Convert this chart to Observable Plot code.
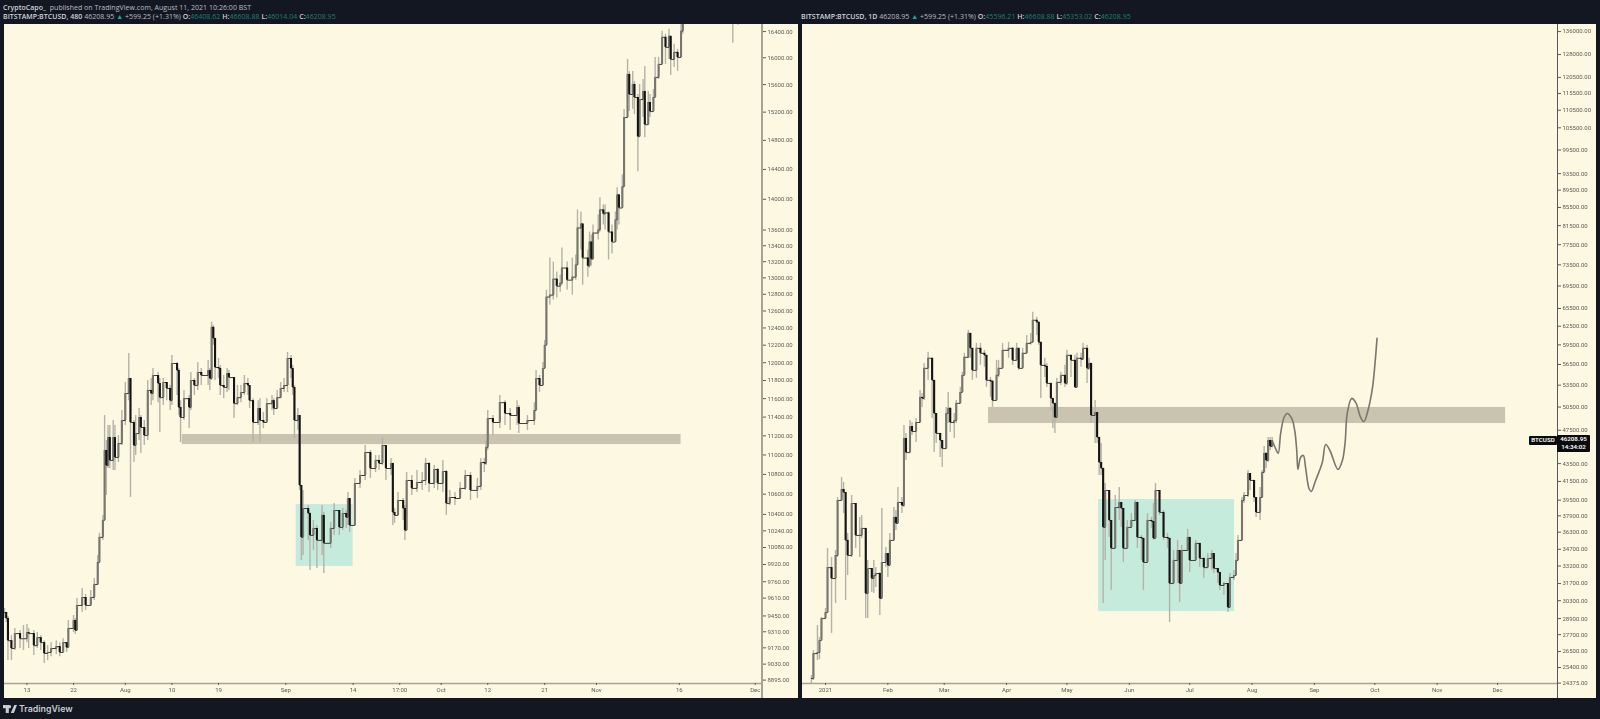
<!DOCTYPE html>
<html><head><meta charset="utf-8">
<script src="https://cdn.jsdelivr.net/npm/d3@7"></script>
<script src="https://cdn.jsdelivr.net/npm/@observablehq/plot@0.6"></script>
<style>
html,body{margin:0;padding:0;background:#131722;width:1600px;height:719px;overflow:hidden}
body{position:relative;font-family:Roboto,sans-serif}
.panel{position:absolute;top:24px;height:674px;width:794px;background:#fdf8e1;overflow:hidden}
.panel svg{display:block;background:transparent;filter:blur(.35px)}
.hdr{position:absolute;font:7px/9px "Open Sans",sans-serif;letter-spacing:.03px;color:#b9bdc6;white-space:nowrap}
.hdr b{font-weight:600;color:#cfd2d9}.hdr i{font-style:normal;color:#1f7f72}
.hdr .up{color:#26a69a}
.vline{position:absolute;top:24px;height:674px}
.tag{position:absolute;background:#0b0b0b;color:#fff;font:600 6.2px/8px Roboto,sans-serif;text-align:center;border-radius:1px}
.brand{position:absolute;left:3px;top:702px;display:flex;align-items:center;gap:2px;color:#c9ccd2;font:600 8.8px/13px Inter,Roboto,sans-serif}
</style></head><body>
<div class="hdr" style="left:3px;top:3px"><b>CryptoCapo_</b>&nbsp; published on TradingView.com, August 11, 2021 10:26:00 BST</div>
<div class="hdr" style="left:3px;top:12px"><b>BITSTAMP:BTCUSD, 480</b> 46208.95 <span class="up">▲</span> +599.25 (+1.31%) <b>O:</b><i>46408.62</i> <b>H:</b><i>46608.88</i> <b>L:</b><i>46014.04</i> <b>C:</b><i>46208.95</i></div>
<div class="hdr" style="left:801px;top:12px"><b>BITSTAMP:BTCUSD, 1D</b> 46208.95 <span class="up">▲</span> +599.25 (+1.31%) <b>O:</b><i>45596.21</i> <b>H:</b><i>46608.88</i> <b>L:</b><i>45353.02</i> <b>C:</b><i>46208.95</i></div>
<div class="panel" id="left" style="left:4px"></div>
<div class="panel" id="right" style="left:802px"></div>
<div class="vline" style="left:761px;width:1.5px;background:#a5a296"></div>
<div class="vline" style="left:1556.5px;width:1px;background:#55585c"></div>
<div class="brand"><svg width="14" height="8" viewBox="0 0 36 20"><path fill="#c9ccd2" d="M0 0h15v20H7V8H0zM29 0h7l-8 20h-8zM17 0a4 4 0 1 1 0 8a4 4 0 1 1 0-8z"/></svg>TradingView</div>
<script>
const leftBar=[0,1,2,4,6,9,11,13,14,17,19,21,23,25,27,30,32,34,36,37,40,41,42,45,47,50,52,54,55,57,58,59,60,61,63,64,66,68,70,72,73,75,76,78,79,81,83,85,86,89,90,92,94,96,97,100,101,102,104,107,108,110,112,114,118,119,120,121,122,124,125,127,129,130,133,135,137,139,141,142,144,147,148,150,152,155,156,158,160,162,164,166,167,168,170,171,172,173,176,177,179,181,184,185,189,191,194,196,198,199,200,203,206,209,212,215,217,219,221,224,225,226,228,231,232,233,236,239,242,244,246,249,251,254,256,258,261,264,267,270,274,276,278,279,280,283,287,290,293,297,298,303,307,308,310,312,313,314,316,318,320,322,323,326,329,331,332,334,335,338,339,340,341,344,345,347,348,350,352,354,355,356,358,359,361,362,364,365,367,368,370,371,373,374,376,377,379,381,383,385,386,388,390,392,393,422,425];
const leftClose=[9481,9427,9232,9164,9294,9249,9249,9303,9294,9189,9258,9215,9121,9130,9164,9181,9130,9215,9172,9339,9409,9321,9544,9616,9544,9616,9735,9938,10177,10341,11046,10890,11182,10943,11182,10974,11118,11363,11656,11822,11342,11098,11224,11395,11288,11203,11690,11656,11856,11767,11611,11778,11712,11578,11991,11912,11503,11395,11600,11503,11800,11745,11890,11856,11912,11822,12407,12278,11946,11934,11745,11723,11878,11833,11545,11611,11667,11767,11745,11578,11342,11492,11363,11342,11545,11578,11492,11611,11712,11745,12048,11934,11723,11363,11417,10688,10177,10458,10409,10196,10263,10148,10390,10120,10263,10438,10273,10409,10370,10557,10292,10708,10789,11025,10860,10943,10912,11098,10860,10912,10419,10390,10537,10458,10244,10738,10658,10718,10738,10912,10708,10850,10708,10829,10507,10567,10557,10658,10789,10638,10678,10922,10912,11077,11384,11342,11556,11438,11417,11503,11331,11363,11470,11822,11745,11934,12198,12766,12790,12984,12898,12935,13121,12972,13009,13158,13626,13678,13245,13146,13447,13232,13561,13600,13860,13808,13821,13574,13447,13730,14058,13886,14165,15122,15750,15455,15602,15411,14852,15382,15499,15021,15339,15208,15411,15706,15900,16311,16158,16327,15975,16081,16005,16405,16670,16830,16530];
const leftHigh=[9517,9481,9445,9276,9339,9321,9365,9374,9339,9321,9303,9276,9232,9189,9215,9232,9215,9249,9215,9409,9454,9427,9607,9698,9644,9680,9790,10005,10215,10390,11417,11150,11310,11310,11363,11310,11203,11470,11778,12105,11822,11363,11417,11492,11417,11363,11800,11822,11934,11890,11822,11822,11778,11745,12082,12002,11934,11578,11690,11634,11890,11822,12002,11934,12025,11934,12467,12431,12255,12048,11968,11856,11934,11912,11822,11745,11745,11856,11822,11745,11600,11578,11600,11449,11600,11634,11600,11690,11778,11822,12117,12082,11968,11745,11492,11417,10688,10638,10487,10419,10341,10292,10487,10419,10321,10507,10438,10458,10438,10618,10557,10758,10840,11098,11046,10995,10995,11182,11098,10964,10912,10458,10618,10557,10487,10819,10789,10840,10819,10964,10922,10890,10860,10943,10840,10638,10618,10718,10840,10819,10758,10964,10964,11150,11470,11417,11634,11578,11492,11578,11524,11417,11556,11912,11856,12002,12255,12850,13245,13195,13071,13034,13371,13195,13245,13283,13860,13834,13665,13345,13574,13536,13665,13795,14019,13926,13926,13834,13665,13834,14152,14058,14327,15237,15975,15795,15795,15646,15455,15602,15676,15870,15499,15455,15528,16005,16005,16405,16358,16436,16280,16204,16127,16514,16750,16910,16830];
const leftLow=[9427,9391,9060,9060,9147,9164,9147,9215,9164,9103,9164,9147,9035,9060,9094,9112,9094,9147,9130,9303,9303,9285,9365,9481,9499,9544,9589,9726,9976,10148,10341,10587,10860,10860,10840,10840,10922,11098,11310,11578,10567,10922,10995,11150,11015,11098,11150,11524,11578,11556,11235,11524,11578,11470,11524,11634,11417,11129,11363,11277,11470,11634,11690,11745,11745,11690,11800,12198,11800,11822,11634,11600,11667,11690,11384,11524,11556,11634,11634,11492,11129,11310,11129,11277,11384,11470,11417,11524,11600,11667,11667,11822,11634,11171,11256,10638,9957,10005,10148,9865,10052,9883,10005,9837,10071,10196,10196,10244,10263,10292,10225,10390,10658,10738,10758,10819,10840,10890,10738,10789,10292,10312,10390,10341,10148,10390,10587,10618,10638,10688,10618,10658,10638,10618,10390,10487,10487,10557,10638,10537,10557,10638,10819,10890,11046,11203,11277,11310,11256,11310,11224,11256,11310,11470,11667,11800,11934,12198,12669,12730,12754,12826,12910,12850,12790,12972,13158,13345,12910,13009,13121,13146,13220,13473,13574,13665,13600,13220,13295,13536,13600,13665,13992,14165,15382,15208,15237,15165,14368,15021,15122,14838,15122,15122,15266,15528,15676,15975,15900,15975,15735,15855,15795,16005,16358,16220,16498];

const rightDay=[-7,-6,-4,-3,-2,0,1,3,5,6,8,9,10,11,13,15,17,18,20,21,23,24,25,27,28,30,31,32,34,35,36,38,39,40,42,43,45,47,48,49,51,53,54,55,57,58,60,61,62,64,65,67,68,69,71,72,73,75,77,79,80,82,83,85,86,88,91,93,95,96,98,100,102,103,105,106,107,109,110,112,113,114,115,117,119,120,122,124,125,127,128,130,131,132,134,135,136,137,138,139,141,142,144,146,147,148,150,152,154,155,157,158,160,162,163,164,166,168,170,171,173,175,176,177,180,181,184,186,188,190,192,193,195,196,198,200,201,203,204,205,207,208,210,211,213,214,216,217,218,219,220,221,222];
const rightClose=[24670,26350,26420,27270,28900,29360,33060,32120,34130,39470,40630,40310,35520,34130,39150,35990,35990,36660,30870,32980,32120,32380,32550,30470,33510,34310,33250,35520,37740,37150,39260,38950,46480,44780,47970,47340,48480,51800,51660,55930,57430,54180,49650,47100,46230,45260,49650,50320,48480,48740,50990,52480,54900,57580,61330,58960,55630,58960,58190,57880,54180,54040,51390,54900,55930,58650,58960,57120,58960,55930,58190,59740,59900,63490,63160,59900,56370,56220,53750,51660,50990,49130,53890,54900,53750,57880,57120,53190,57430,57280,58960,55930,56660,49390,49780,46610,43630,42950,36760,40520,37440,34780,38740,39260,38640,34780,36760,37440,39260,35800,35710,33510,37440,37340,35710,40520,38240,35800,35710,31700,33690,34590,31700,34590,35800,33690,35240,33870,33060,33870,34310,32980,32640,31540,31700,29760,32210,32380,33690,35520,39470,39990,42380,41610,39780,38240,39780,42490,44680,43860,46230,45510,46208.95];
const rightHigh=[24870,26560,28380,27490,28980,29680,34780,33950,34590,39780,41940,41390,38440,36180,39990,39150,37740,37940,35520,33690,32980,33690,33060,32640,38640,34870,34310,36180,38740,38440,40840,39780,48100,47100,48740,48480,49000,52760,52340,56660,58340,57430,52070,49650,47100,46230,50450,52480,50450,49650,51390,53190,55340,58190,61830,61330,58960,59740,59740,58650,57880,54610,54180,57120,57120,59740,59900,59110,59740,58340,58960,61000,61330,64850,63990,63160,59900,57430,56660,53750,51660,50990,54470,55340,56370,58650,57880,57880,58190,58190,59740,59430,57430,56660,51390,49780,46610,45870,42720,41280,40520,37440,39990,40840,39260,38640,37440,38130,39470,39260,35990,35710,38130,37740,39150,41280,40520,38440,36180,35710,34590,35520,34590,35050,36570,35800,35520,35240,33950,34310,34590,34310,32980,32640,31780,31700,32550,32810,34310,35990,39780,40310,42720,42380,41610,39780,40840,42720,45500,44790,46610,46610,46608.88];
const rightLow=[24350,24543,25873,25940,27420,28900,29360,27790,30070,33950,39470,38130,30310,32380,33950,34780,33950,35710,28900,28900,30950,30870,31370,29130,30870,33060,32210,33250,35520,36470,37440,38130,38740,43860,45870,46850,45990,48480,50450,51390,54180,49000,44780,45870,44210,43050,45260,48350,47220,46480,48350,50990,52480,55630,57430,57430,54180,54470,56370,56080,53190,51800,50450,51390,54610,55930,57430,56370,57430,55630,57430,58190,59430,59900,61000,59430,51660,54610,53190,50050,47720,47100,49130,53470,53190,53470,54610,53050,54900,56080,57120,53750,55630,48350,45870,45870,42160,42160,30070,33690,35800,31120,36470,37440,36760,33510,35710,36660,37440,34780,33690,31120,33510,36660,35520,35710,37940,35520,34780,28600,31700,31700,30150,32210,34590,32640,33690,33060,32120,33060,32810,32550,31700,31120,30710,29360,29760,31950,32380,33690,35520,39150,39780,40520,39260,37740,37440,39680,42490,42950,43630,45030,45353.02];

const forecastDay=[222,223.7,225,226.2,227.9,229.5,231.7,233.2,234.2,234.8,236.1,237.5,238.6,240.3,241.4,243.6,246.9,248.6,250.7,254.7,256.9,258.2,259.3,261.5,263.5,266,267.6,269.6,271.8,273.1,274.1];
const forecastPrice=[46209,45260,44680,47100,49130,49650,49000,47470,45030,42830,44210,44440,43050,40730,40410,41610,43630,45740,45030,42830,43860,45870,49650,51660,51120,49130,48610,50050,53040,56660,60530];

const leftTicksY=[16400,16000,15600,15200,14800,14400,14000,13600,13400,13200,13000,12800,12600,12400,12200,12000,11800,11600,11400,11200,11000,10800,10600,10400,10240,10080,9920,9760,9610,9450,9310,9170,9030,8895];
const rightTicksY=[136000,128000,120500,115500,110500,105500,99500,93500,89500,85500,81500,77500,73500,69500,65500,62500,59500,56500,53500,50500,47500,43500,41500,39500,37900,36300,34700,33200,31700,30300,28900,27700,26500,25400,24375];
const leftTickBars=[13,40,70,97,124,163,202,229,253,280,313,343,391,435];
const leftTickLabels=["13","22","Aug","10","19","Sep","14","17:00","Oct","12","21","Nov","16","Dec"];
const rightTickDays=[0,31,59,90,120,151,181,212,243,273,304,334];
const rightTickLabels=["2021","Feb","Mar","Apr","May","Jun","Jul","Aug","Sep","Oct","Nov","Dec"];

const leftBandBars=[103,392], leftBandPrices=[11108,11214];
const leftBoxBars=[169,202], leftBoxPrices=[9902,10497];
const rightBandDays=[81,338], rightBandPrices=[48350,50450];
const rightBoxDays=[135.7,203.3], rightBoxPrices=[29440,39570];

const C={teal:"#c5ebdd",band:"#c9c3b0",wick:"#b4b3a8",up:"#77776f",down:"#141414",step:"#3c3c3c",tick:"#5c5c58",axis:"#a5a296"};

function table(xs,closes,highs,lows){
  return xs.map((x,i)=>({x,close:closes[i],open:i?closes[i-1]:closes[i],high:highs[i],low:lows[i]}));
}
function panel(o){
  const rows=table(o.xs,o.closes,o.highs,o.lows);
  const fmt=new Map(o.tickX.map((d,i)=>[d,o.tickLabels[i]]));
  const tickStyle={fontSize:6,fontFamily:"Roboto, sans-serif",color:C.tick};
  const extra=o.extra||[];
  return Plot.plot({
    width:794,height:674,marginTop:0,marginLeft:0,marginBottom:15,marginRight:o.marginRight,
    style:{background:"transparent",overflow:"visible",fontFamily:"Roboto, sans-serif"},
    x:{domain:o.xDomain,axis:null},
    y:{type:"log",domain:o.yDomain,axis:null},
    marks:[
      Plot.rect([0],{x1:o.box[0],x2:o.box[1],y1:o.boxY[0],y2:o.boxY[1],fill:C.teal}),
      Plot.rect([0],{x1:o.band[0],x2:o.band[1],y1:o.bandY[0],y2:o.bandY[1],fill:C.band}),
      Plot.ruleX(rows,{x:"x",y1:"low",y2:"high",stroke:C.wick,strokeWidth:1.4,clip:true}),
      Plot.line(rows,{x:"x",y:"close",curve:"step-after",stroke:C.step,strokeWidth:1,clip:true}),
      Plot.ruleX(rows,{filter:d=>d.close>=d.open,x:"x",y1:"open",y2:"close",stroke:C.up,strokeWidth:o.body,clip:true}),
      Plot.ruleX(rows,{filter:d=>d.close<d.open,x:"x",y1:"open",y2:"close",stroke:C.down,strokeWidth:o.body,clip:true}),
      ...extra,
      Plot.ruleY([o.yDomain[0]],{stroke:C.axis,strokeWidth:1.5}),
      Plot.axisY(o.tickY,{anchor:"right",tickSize:3,tickPadding:2,stroke:C.tick,fill:C.tick,tickFormat:d=>d.toFixed(2),label:null,...tickStyle}),
      Plot.axisX(o.tickX,{anchor:"bottom",tickSize:2,tickPadding:2,stroke:C.tick,fill:C.tick,tickFormat:d=>fmt.get(d),label:null,...tickStyle})
    ]
  });
}
const lp=panel({xs:leftBar,closes:leftClose,highs:leftHigh,lows:leftLow,
  marginRight:36,xDomain:[0,439.2],yDomain:[8866.5,16510],body:2.1,
  box:leftBoxBars,boxY:leftBoxPrices,band:leftBandBars,bandY:leftBandPrices,
  tickY:leftTicksY,tickX:leftTickBars,tickLabels:leftTickLabels});
document.getElementById("left").append(lp);
const rp=panel({xs:rightDay,closes:rightClose,highs:rightHigh,lows:rightLow,
  marginRight:39,xDomain:[-11.43,363.8],yDomain:[24351,138560],body:2.1,
  box:rightBoxDays,boxY:rightBoxPrices,band:rightBandDays,bandY:rightBandPrices,
  tickY:rightTicksY,tickX:rightTickDays,tickLabels:rightTickLabels,
  extra:[Plot.line(forecastDay.map((d,i)=>({d,p:forecastPrice[i]})),{x:"d",y:"p",curve:"catmull-rom",stroke:"#77776e",strokeWidth:1.6})]});
document.getElementById("right").append(rp);
const lastClose=rightClose[rightClose.length-1];
const yTag=24+rp.scale("y").apply(lastClose);
const t1=document.createElement("div");t1.className="tag";t1.textContent="BTCUSD";
t1.style.cssText=`left:1529px;width:28px;top:${yTag-4.5}px;height:9px;line-height:9px`;
const t2=document.createElement("div");t2.className="tag";t2.innerHTML=lastClose.toFixed(2)+"<br>14:34:02";
t2.style.cssText=`left:1557px;width:33px;top:${yTag-5}px;height:17px;padding-top:0`;
document.body.append(t1,t2);
</script>
</body></html>
